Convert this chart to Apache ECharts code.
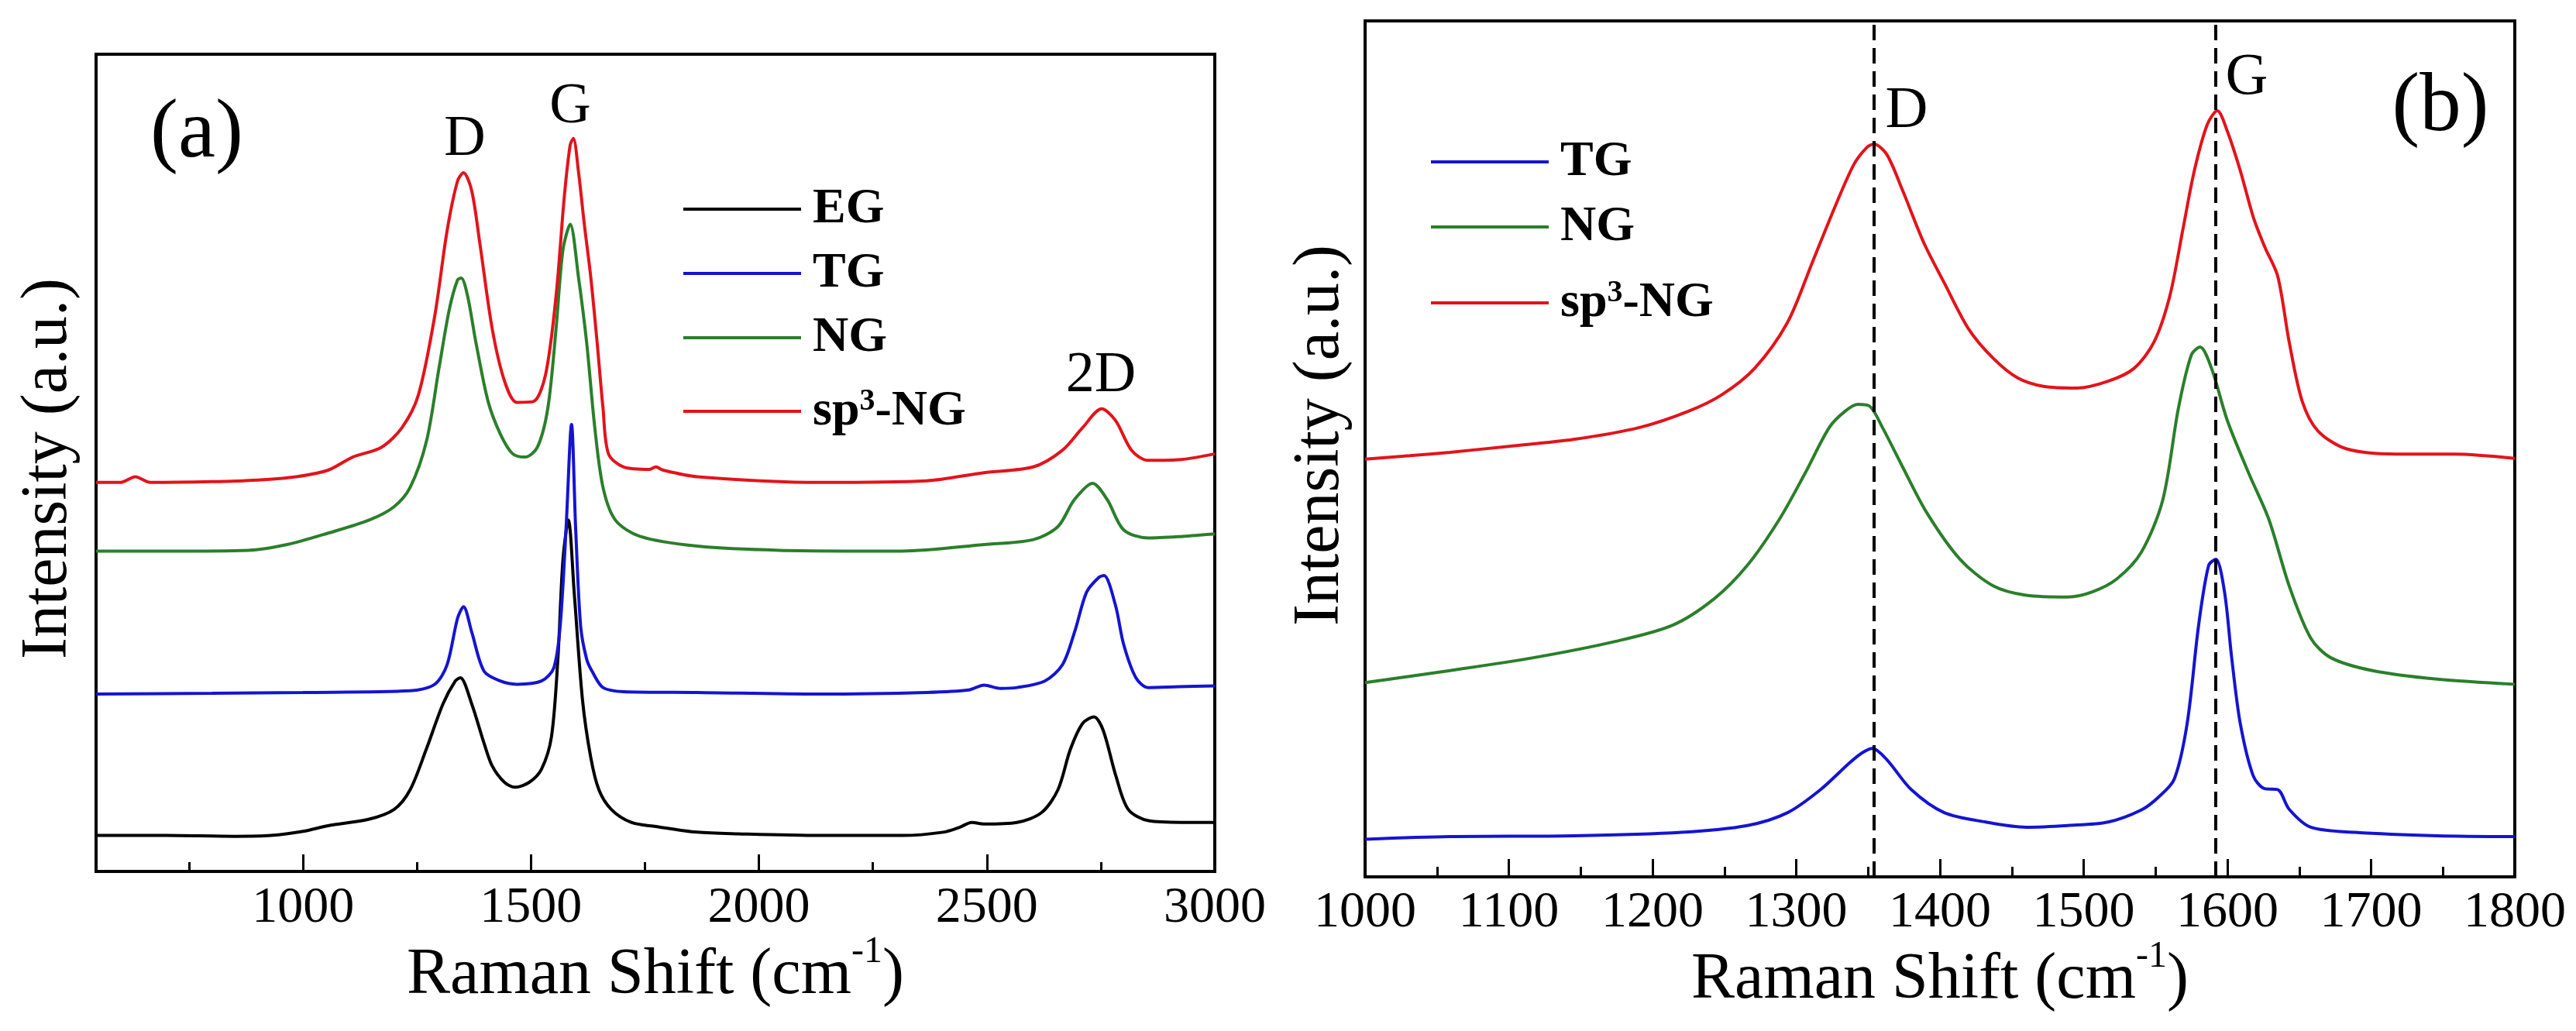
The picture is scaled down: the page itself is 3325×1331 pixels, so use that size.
<!DOCTYPE html>
<html>
<head>
<meta charset="utf-8">
<script src="https://cdn.jsdelivr.net/npm/echarts@6/dist/echarts.min.js"></script>
<style>
html,body{margin:0;padding:0;background:#fff;}
#chart{width:3325px;height:1331px;}
</style>
</head>
<body>
<div id="chart"></div>
<script>
// ---------- Panel (a) data : Raman shift (cm-1) vs intensity (a.u., offset stacked) ----------
const egX = [546, 700, 850, 930, 1000, 1055, 1145, 1200, 1235, 1270, 1307, 1334, 1345, 1370, 1397, 1415, 1442, 1465, 1496, 1523, 1545, 1559, 1570, 1582, 1595, 1613, 1631, 1649, 1676, 1720, 1774, 1865, 1955, 2134, 2314, 2404, 2440, 2467, 2494, 2566, 2620, 2656, 2683, 2710, 2735, 2755, 2783, 2810, 2855, 2927, 3000];
const egY = [4.4, 4.4, 4.3, 4.4, 4.9, 5.6, 6.4, 7.6, 10, 14.9, 20.5, 23.3, 23.7, 20.5, 15.7, 12.9, 10.9, 10.3, 10.9, 12.5, 16.5, 26, 38, 43, 34, 21, 14, 10, 7.6, 6, 5.5, 4.8, 4.6, 4.4, 4.4, 4.8, 5.4, 6, 5.8, 6, 7.2, 10, 14.9, 18.1, 18.9, 17.3, 11.7, 7.6, 6.2, 6, 6];

const tgAX = [546, 800, 1000, 1235, 1289, 1316, 1339, 1352, 1370, 1397, 1433, 1469, 1523, 1550, 1564, 1577, 1589, 1598, 1609, 1622, 1634, 1658, 1703, 1865, 2134, 2368, 2460, 2494, 2530, 2566, 2627, 2666, 2693, 2719, 2746, 2757, 2782, 2800, 2827, 2854, 2920, 3000];
const tgAY = [21.7, 21.8, 21.9, 22.1, 22.9, 25.3, 31, 32.4, 29.3, 24.5, 23.3, 22.9, 23.3, 24.9, 30, 42, 54.7, 42, 30, 26, 24.5, 22.5, 22, 21.9, 21.7, 21.9, 22.2, 22.8, 22.4, 22.5, 23.3, 25.3, 29.4, 34.2, 36, 36.2, 32.6, 27.8, 23.7, 22.5, 22.6, 22.7];

const ngAX = [546, 700, 880, 965, 1055, 1145, 1199, 1235, 1271, 1298, 1321, 1339, 1347, 1361, 1379, 1406, 1433, 1460, 1487, 1514, 1537, 1555, 1570, 1586, 1604, 1622, 1640, 1658, 1685, 1739, 1865, 2045, 2314, 2494, 2602, 2656, 2692, 2732, 2764, 2800, 2854, 2930, 3000];
const ngAY = [39.2, 39.2, 39.3, 40, 41.4, 43, 44.6, 47, 52.7, 61.5, 68.8, 72.4, 72.6, 70.4, 64.8, 57.5, 53.5, 51.1, 50.7, 51.9, 56.7, 66.4, 76, 79.2, 72.8, 64.8, 54.3, 47, 43, 41, 39.8, 39.3, 39.2, 40, 40.6, 42.2, 45.5, 47.5, 45.5, 41.8, 40.8, 41, 41.3];

const spAX = [546, 600, 632, 665, 800, 900, 985, 1055, 1109, 1172, 1217, 1253, 1289, 1316, 1339, 1352, 1370, 1388, 1415, 1442, 1469, 1505, 1532, 1555, 1573, 1586, 1593, 1604, 1617, 1631, 1645, 1658, 1670, 1703, 1760, 1774, 1790, 1865, 2134, 2368, 2494, 2602, 2665, 2710, 2752, 2782, 2818, 2854, 2926, 3000];
const spAY = [47.6, 47.6, 48.3, 47.6, 47.7, 47.9, 48.3, 49.1, 50.7, 51.9, 54.3, 58.3, 68, 78.4, 84.5, 85.5, 83.3, 76.8, 66.4, 60, 57.4, 57.5, 60.8, 70.4, 82.5, 88.9, 89.7, 85.7, 79.2, 72.8, 64.8, 56.7, 51.1, 49.5, 49.2, 49.5, 49.1, 48.3, 47.6, 47.8, 48.8, 49.5, 51.5, 54.3, 56.6, 55.2, 51.5, 50.3, 50.4, 51.1];

// ---------- Panel (b) data ----------
const tgBX = [1000, 1059, 1145, 1220, 1266, 1294, 1317, 1337, 1346, 1353, 1363, 1380, 1403, 1432, 1460, 1489, 1517, 1540, 1552, 1563, 1572, 1580, 1587, 1592, 1598, 1603, 1609, 1618, 1626, 1635, 1643, 1658, 1689, 1746, 1800];
const tgBY = [4.4, 4.7, 4.8, 5.2, 6, 7.5, 10.2, 13.3, 14.5, 15, 13.7, 10.2, 7.5, 6.4, 5.8, 6, 6.4, 7.8, 9.3, 11.4, 17.9, 29.4, 36.4, 37.1, 33.3, 25.6, 17.9, 11.8, 10.3, 10.2, 7.9, 5.8, 5.2, 4.8, 4.7];

const ngBX = [1000, 1059, 1117, 1174, 1214, 1243, 1266, 1288, 1306, 1323, 1334, 1343, 1351, 1360, 1374, 1391, 1414, 1437, 1460, 1489, 1506, 1523, 1540, 1555, 1566, 1575, 1581, 1589, 1600, 1615, 1629, 1643, 1658, 1672, 1701, 1746, 1800];
const ngBY = [22.7, 24.1, 25.6, 27.5, 29.4, 32.5, 36.4, 41.7, 47.1, 52.5, 54.4, 55.2, 55, 52.5, 47.9, 42.5, 37.1, 34, 32.9, 32.7, 33.3, 34.8, 37.9, 44, 54.8, 61, 61.9, 59.4, 53.3, 47.1, 41.7, 34, 27.9, 25.6, 24.1, 23.1, 22.5];

const spBX = [1000, 1031, 1059, 1100, 1145, 1191, 1225, 1248, 1271, 1294, 1311, 1326, 1340, 1349, 1354, 1363, 1374, 1389, 1403, 1420, 1437, 1454, 1472, 1495, 1517, 1535, 1549, 1560, 1569, 1577, 1586, 1593, 1600, 1609, 1618, 1626, 1635, 1643, 1652, 1663, 1683, 1718, 1758, 1800];
const spBY = [48.8, 49.2, 49.6, 50.3, 51.1, 52.5, 54.4, 56.3, 59.4, 64.8, 71.7, 77.9, 83.2, 85.2, 85.6, 84.4, 80.2, 74, 69.4, 64, 60.6, 58.3, 57.3, 57.1, 57.9, 59.4, 62.5, 67.9, 75.6, 82.5, 87.9, 89.5, 87.1, 82.5, 77.1, 73.6, 70.2, 62.5, 55.6, 52.1, 50, 49.4, 49.4, 48.9];

// ---------- ticks / reference lines ----------
const majorTicksA = [1000, 1500, 2000, 2500, 3000];
const minorTicksA = [750, 1250, 1750, 2250, 2750];
const peakLinesB = [1354, 1592];

const colors = {EG: '#000000', TG: '#1414d2', NG: '#2a7f2a', SP: '#e3131b'};
const serif = "'Liberation Serif', 'Times New Roman', serif";

function zip(xs, ys) { return xs.map((x, i) => [x, ys[i]]); }

function line(name, xs, ys, color, gi, extra) {
  return Object.assign({
    name: name, type: 'line', xAxisIndex: gi === 0 ? 0 : 2, yAxisIndex: gi,
    data: zip(xs, ys), symbol: 'none', smooth: 0.3, silent: true,
    lineStyle: {width: 4, color: color}, itemStyle: {color: color}
  }, extra || {});
}

const legendText = {
  fontFamily: serif, fontSize: 64, fontWeight: 'bold', color: '#000', lineHeight: 64,
  padding: [0, 0, 0, 10],
  rich: {
    b: {fontFamily: serif, fontSize: 64, fontWeight: 'bold', color: '#000', lineHeight: 64},
    sup: {fontFamily: serif, fontSize: 40, fontWeight: 'bold', color: '#000', lineHeight: 64, verticalAlign: 'top'}
  }
};
const legendFmt = function (n) { return n === 'sp3-NG' ? '{b|sp}{sup|3}{b|-NG}' : '{b|' + n + '}'; };
function legend(data, left, top, gap) {
  return {data: data, orient: 'vertical', left: left, top: top, itemWidth: 152, itemHeight: 4,
    icon: 'rect', itemGap: gap, selectedMode: false, textStyle: legendText, formatter: legendFmt, padding: 0};
}

const axisTitleRich = {
  m: {fontFamily: serif, fontSize: 84, fill: '#000', lineHeight: 110},
  s: {fontFamily: serif, fontSize: 48, fill: '#000', lineHeight: 48, verticalAlign: 'top'}
};

function txt(x, y, text, size, rot, rich) {
  const o = {type: 'text', x: x, y: y, silent: true,
    style: {text: text, fontFamily: serif, fontSize: size, fill: '#000', align: 'center', verticalAlign: 'middle'}};
  if (rot) o.rotation = rot;
  if (rich) o.style.rich = rich;
  return o;
}

const plain = v => String(v);

const option = {
  animation: false,
  backgroundColor: '#ffffff',
  grid: [
    {left: 124, top: 70, width: 1444, height: 1055, show: true, borderColor: '#000', borderWidth: 4, backgroundColor: 'transparent'},
    {left: 1762, top: 27, width: 1484, height: 1105, show: true, borderColor: '#000', borderWidth: 4, backgroundColor: 'transparent'}
  ],
  xAxis: [
    {gridIndex: 0, type: 'value', min: 546, max: 3000, position: 'bottom',
      axisLine: {show: false}, splitLine: {show: false},
      axisTick: {show: true, inside: true, length: 22, customValues: majorTicksA, lineStyle: {color: '#000', width: 3}},
      axisLabel: {customValues: majorTicksA, formatter: plain, fontFamily: serif, fontSize: 66, color: '#000', margin: 15}},
    {gridIndex: 0, type: 'value', min: 546, max: 3000, position: 'bottom', offset: 0,
      axisLine: {show: false}, splitLine: {show: false},
      axisTick: {show: true, inside: true, length: 12, customValues: minorTicksA, lineStyle: {color: '#000', width: 3}},
      axisLabel: {show: false}},
    {gridIndex: 1, type: 'value', min: 1000, max: 1800, interval: 100, position: 'bottom',
      axisLine: {show: false}, splitLine: {show: false},
      axisTick: {show: true, inside: true, length: 23, lineStyle: {color: '#000', width: 3}},
      minorTick: {show: true, splitNumber: 2, length: 13, lineStyle: {color: '#000', width: 3}},
      axisLabel: {formatter: plain, fontFamily: serif, fontSize: 66, color: '#000', margin: 14, showMinLabel: true, showMaxLabel: true}}
  ],
  yAxis: [
    {gridIndex: 0, type: 'value', min: 0, max: 100, show: false},
    {gridIndex: 1, type: 'value', min: 0, max: 100, show: false}
  ],
  legend: [
    legend(['EG', 'TG', 'NG'], 882, 238, 19),
    legend(['sp3-NG'], 882, 499, 0),
    legend(['TG', 'NG'], 1847, 177, 20),
    legend(['sp3-NG'], 1847, 359, 0)
  ],
  series: [
    line('EG', egX, egY, colors.EG, 0),
    line('TG', tgAX, tgAY, colors.TG, 0),
    line('NG', ngAX, ngAY, colors.NG, 0),
    line('sp3-NG', spAX, spAY, colors.SP, 0),
    line('TG', tgBX, tgBY, colors.TG, 1, {
      markLine: {silent: true, symbol: ['none', 'none'], label: {show: false},
        lineStyle: {color: '#000', width: 4, type: [20, 10]},
        data: peakLinesB.map(v => ({xAxis: v}))}
    }),
    line('NG', ngBX, ngBY, colors.NG, 1),
    line('sp3-NG', spBX, spBY, colors.SP, 1)
  ],
  graphic: [
    txt(254, 174, '(a)', 108),
    txt(3150, 140, '(b)', 107),
    txt(600, 181, 'D', 74),
    txt(736, 139, 'G', 74),
    txt(1421, 486, '2D', 74),
    txt(2461, 144, 'D', 76),
    txt(2900, 101, 'G', 76),
    txt(846, 1260, '{m|Raman Shift (cm}{s|-1}{m|)}', 84, 0, axisTitleRich),
    txt(2504, 1266, '{m|Raman Shift (cm}{s|-1}{m|)}', 84, 0, axisTitleRich),
    txt(63, 605, 'Intensity (a.u.)', 84, Math.PI / 2),
    txt(1705, 562, 'Intensity (a.u.)', 84, Math.PI / 2)
  ]
};

const chart = echarts.init(document.getElementById('chart'), null, {renderer: 'canvas'});
chart.setOption(option);
</script>
</body>
</html>
